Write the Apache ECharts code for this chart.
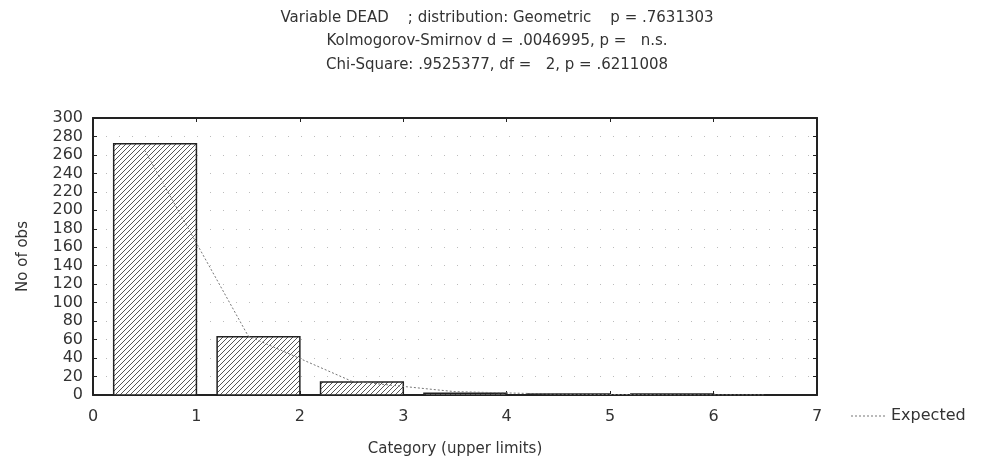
<!DOCTYPE html>
<html>
<head>
<meta charset="utf-8">
<script src="https://cdn.jsdelivr.net/npm/echarts@6/dist/echarts.min.js"></script>
<style>
  html, body { margin: 0; padding: 0; background: #fff; }
  #chart { width: 995px; height: 469px; }
</style>
</head>
<body>
<div id="chart"></div>
<script>
// category upper limits and observed counts
var categories = [1, 2, 3, 4, 5, 6, 7];
var observed = [272, 63, 14, 2, 1, 1, 0];
// expected curve (drawn at category midpoints)
var expectedX = [0.5, 1.5, 2.5, 3.5, 4.5, 5.5, 6.5];
var expected = [265, 64, 15, 3.6, 0.9, 0.2, 0.05];
var titleLines = [
  'Variable DEAD    ; distribution: Geometric    p = .7631303',
  'Kolmogorov-Smirnov d = .0046995, p =   n.s.',
  'Chi-Square: .9525377, df =   2, p = .6211008'
];

var FONT = 'DejaVu Sans';

// hatch pattern for the bars
var hatch = document.createElement('canvas');
hatch.width = 5; hatch.height = 5;
var hc = hatch.getContext('2d');
hc.fillStyle = '#fff';
hc.fillRect(0, 0, 5, 5);
hc.strokeStyle = '#555';
hc.lineWidth = 1;
hc.beginPath();
hc.moveTo(0, 5); hc.lineTo(5, 0);
hc.moveTo(-1, 1); hc.lineTo(1, -1);
hc.moveTo(4, 6); hc.lineTo(6, 4);
hc.stroke();

// dotted legend stroke
var dashIcon = 'path://';
for (var d = 0; d < 36; d += 4) dashIcon += 'M' + d + ',0h2v1h-2z';

var chart = echarts.init(document.getElementById('chart'), null, { renderer: 'canvas' });

var barData = categories.map(function (c, i) { return [c, observed[i]]; });
var lineData = expectedX.map(function (x, i) { return [x, expected[i]]; });

var axisLineStyle = { color: '#222', width: 2 };
var tick = { show: true, inside: true, length: 4, lineStyle: { color: '#222' } };

var option = {
  backgroundColor: '#fff',
  animation: false,
  title: {
    text: titleLines.join('\n'),
    left: 492,
    top: 1,
    textAlign: 'center',
    textStyle: { fontFamily: FONT, fontSize: 15, fontWeight: 'normal', color: '#333', lineHeight: 23.5 }
  },
  legend: {
    left: 846,
    top: 403,
    itemWidth: 36,
    itemHeight: 1,
    itemGap: 10,
    textStyle: { fontFamily: FONT, fontSize: 16, color: '#333' },
    data: [{ name: 'Expected', icon: dashIcon, itemStyle: { color: '#777' } }]
  },
  grid: { left: 93, right: 178, top: 118, bottom: 74 },
  xAxis: [{
    type: 'value', min: 0, max: 7, interval: 1,
    name: 'Category (upper limits)', nameLocation: 'middle', nameGap: 47,
    nameTextStyle: { fontFamily: FONT, fontSize: 15, color: '#333' },
    axisLine: { show: true, onZero: false, lineStyle: axisLineStyle },
    axisTick: tick,
    axisLabel: { fontFamily: FONT, fontSize: 16, color: '#333', margin: 14 },
    splitLine: { show: false }
  }, {
    type: 'value', min: 0, max: 7, interval: 1, position: 'top',
    axisLine: { show: true, onZero: false, lineStyle: axisLineStyle },
    axisTick: tick,
    axisLabel: { show: false },
    splitLine: { show: false }
  }],
  yAxis: [{
    type: 'value', min: 0, max: 300, interval: 20,
    name: 'No of obs', nameLocation: 'middle', nameGap: 62,
    nameTextStyle: { fontFamily: FONT, fontSize: 15, color: '#333' },
    axisLine: { show: true, onZero: false, lineStyle: axisLineStyle },
    axisTick: tick,
    axisLabel: { fontFamily: FONT, fontSize: 16, color: '#333', margin: 10 },
    splitLine: { show: true, lineStyle: { color: '#bbb', width: 1, type: [1, 12] } }
  }, {
    type: 'value', min: 0, max: 300, interval: 20, position: 'right',
    axisLine: { show: true, onZero: false, lineStyle: axisLineStyle },
    axisTick: tick,
    axisLabel: { show: false },
    splitLine: { show: false }
  }],
  series: [{
    name: 'Observed',
    type: 'custom',
    xAxisIndex: 0, yAxisIndex: 0,
    data: barData,
    renderItem: function (params, api) {
      var k = api.value(0), v = api.value(1);
      if (!v) return null;
      var p0 = api.coord([k - 0.8, v]);
      var p1 = api.coord([k, 0]);
      return {
        type: 'rect',
        shape: { x: p0[0], y: p0[1], width: p1[0] - p0[0], height: p1[1] - p0[1] },
        style: { fill: { image: hatch, repeat: 'repeat' }, stroke: '#222', lineWidth: 1.5 }
      };
    },
    z: 2
  }, {
    name: 'Expected',
    type: 'line',
    xAxisIndex: 0, yAxisIndex: 0,
    data: lineData,
    symbol: 'none',
    lineStyle: { color: '#777', width: 1, type: [2, 2] },
    itemStyle: { color: '#777' },
    z: 3
  }]
};

chart.setOption(option);
</script>
</body>
</html>
